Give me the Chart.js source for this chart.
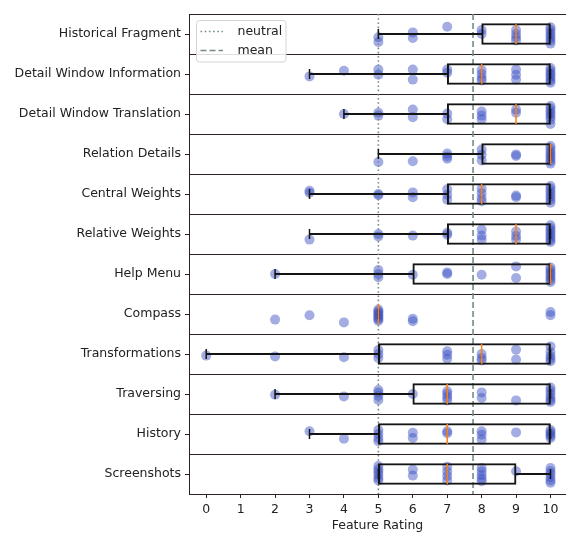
<!DOCTYPE html>
<html>
<head>
<meta charset="utf-8">
<script src="https://cdn.jsdelivr.net/npm/chart.js@4/dist/chart.umd.min.js"></script>
<style>
  html, body { margin: 0; padding: 0; background: #ffffff; }
  canvas { display: block; }
</style>
</head>
<body>
<canvas id="chart" width="566" height="533"></canvas>
<script>
// Features, top row first
const features = [
  'Historical Fragment', 'Detail Window Information', 'Detail Window Translation',
  'Relation Details', 'Central Weights', 'Relative Weights', 'Help Menu',
  'Compass', 'Transformations', 'Traversing', 'History', 'Screenshots'
];

// Individual ratings per feature, with each dot's vertical jitter (fraction of a row)
const historicalFragment = [5,5,6,6,7,8,8,9,9,9,9,10,10,10,10,10,10,10];
const historicalFragmentJitter = [0.08,0.2,-0.04,0.1,-0.18,-0.1,0.0,-0.1,0.0,0.08,0.16,-0.17,-0.1,-0.03,0.04,0.1,0.17,0.24];

const detailWindowInformation = [3,4,5,5,6,6,7,7,8,8,8,8,9,9,9,10,10,10,10,10,10,10];
const detailWindowInformationJitter = [0.06,-0.08,-0.11,0.02,-0.11,0.14,-0.11,-0.03,-0.1,0.0,0.1,0.16,-0.11,0.02,0.14,-0.15,-0.08,-0.02,0.04,0.1,0.16,0.22];

const detailWindowTranslation = [4,5,5,6,6,7,7,8,8,8,9,9,10,10,10,10,10,10,10];
const detailWindowTranslationJitter = [0.0,-0.03,0.04,-0.11,0.08,-0.01,0.13,-0.06,0.04,0.13,-0.11,-0.03,-0.2,-0.13,-0.06,0.0,0.07,0.14,0.25];

const relationDetails = [5,6,7,7,7,8,8,8,9,9,10,10,10,10,10,10,10,10];
const relationDetailsJitter = [0.2,0.18,-0.01,0.06,0.12,-0.11,0.02,0.16,0.01,0.05,-0.2,-0.13,-0.06,0.0,0.06,0.12,0.18,0.24];

const centralWeights = [3,3,5,5,6,6,7,7,7,8,8,8,8,9,9,10,10,10,10,10,10,10];
const centralWeightsJitter = [-0.08,-0.03,0.0,0.03,-0.04,0.08,-0.12,0.02,0.14,-0.13,-0.02,0.1,0.18,0.04,0.08,-0.2,-0.13,-0.06,0.01,0.08,0.15,0.22];

const relativeWeights = [3,5,5,6,7,7,8,8,8,9,9,9,10,10,10,10,10,10,10,10];
const relativeWeightsJitter = [0.14,0.0,0.06,0.04,-0.03,0.02,-0.11,0.04,0.14,-0.06,0.05,0.14,-0.22,-0.15,-0.09,-0.03,0.03,0.09,0.15,0.2];

const helpMenu = [2,5,5,5,6,7,7,8,9,9,10,10,10,10,10,10,10];
const helpMenuJitter = [0.0,-0.1,0.0,0.08,0.02,-0.04,0.0,0.02,-0.19,0.1,-0.16,-0.1,-0.04,0.02,0.08,0.14,0.2];

const compass = [2,3,4,5,5,5,5,5,5,5,5,6,6,10,10];
const compassJitter = [0.14,0.03,0.21,-0.11,-0.07,-0.03,0.01,0.05,0.09,0.13,0.17,0.12,0.18,-0.05,0.03];

const transformations = [0,2,4,5,5,5,7,7,7,8,8,8,9,9,10,10,10,10,10];
const transformationsJitter = [0.04,0.06,0.08,-0.1,0.0,0.1,-0.07,0.02,0.12,0.0,0.1,0.16,-0.11,0.14,-0.19,-0.05,0.05,0.12,0.18];

const traversing = [2,4,5,5,5,5,6,7,7,7,7,8,8,9,10,10,10,10,10,10];
const traversingJitter = [0.02,0.06,-0.1,-0.03,0.05,0.15,0.0,-0.07,0.0,0.08,0.16,-0.04,0.1,0.16,-0.16,-0.08,0.0,0.08,0.15,0.2];

const history = [3,4,5,5,5,5,6,6,7,7,8,8,8,9,10,10,10,10,10];
const historyJitter = [-0.07,0.12,-0.1,0.0,0.1,0.18,-0.03,0.1,-0.07,-0.02,-0.07,0.02,0.14,-0.04,-0.1,-0.05,0.0,0.05,0.1];

const screenshots = [5,5,5,5,5,5,6,6,7,7,7,7,8,8,8,8,8,9,10,10,10,10,10,10];
const screenshotsJitter = [-0.2,-0.12,-0.05,0.02,0.1,0.16,-0.11,0.04,-0.18,-0.06,0.05,0.16,-0.15,-0.06,0.03,0.12,0.18,-0.07,-0.15,-0.07,0.0,0.08,0.16,0.22];

// Box plot summaries, in feature order
const whiskerLow  = [5, 3, 4, 5, 3, 3, 2, 5, 0, 2, 3, 5];
const quartile1   = [8, 7, 7, 8, 7, 7, 6, 5, 5, 6, 5, 5];
const medians     = [9, 8, 9, 10, 8, 9, 10, 5, 8, 7, 7, 7];
const quartile3   = [10, 10, 10, 10, 10, 10, 10, 5, 10, 10, 10, 9];
const whiskerHigh = [10, 10, 10, 10, 10, 10, 10, 5, 10, 10, 10, 10];

// Reference ratings
const neutralRating = 5;
const meanRating = 7.75;

// Rating axis ticks
const ratingTicks = [0, 1, 2, 3, 4, 5, 6, 7, 8, 9, 10];

const featureRatings = [historicalFragment, detailWindowInformation, detailWindowTranslation,
  relationDetails, centralWeights, relativeWeights, helpMenu, compass,
  transformations, traversing, history, screenshots];
const featureJitter = [historicalFragmentJitter, detailWindowInformationJitter, detailWindowTranslationJitter,
  relationDetailsJitter, centralWeightsJitter, relativeWeightsJitter, helpMenuJitter, compassJitter,
  transformationsJitter, traversingJitter, historyJitter, screenshotsJitter];

const rowIndex = features.map((_, i) => i);
const rowTop = -0.5;
const rowBottom = features.length - 0.5;

const dots = [];
featureRatings.forEach((list, i) => {
  list.forEach((r, k) => dots.push({ x: r, y: i + featureJitter[i][k] }));
});

const ink = '#141414';
const spine = '#2e2220';
const refColor = '#768a8a';

Chart.defaults.font.family = "'DejaVu Sans', sans-serif";
Chart.defaults.font.size = 12.5;
Chart.defaults.color = '#222222';

// Framed legend for the two reference lines, placed in the chart's upper-left corner
const refLegend = {
  id: 'refLegend',
  afterDatasetsDraw(chart) {
    const { ctx, chartArea } = chart;
    const refs = chart.data.datasets.filter(d => d.refLine);
    const x0 = chartArea.left + 7.5, y0 = chartArea.top + 6.5, w = 89.5, h = 41.5, r = 3;
    ctx.save();
    ctx.beginPath();
    ctx.moveTo(x0 + r, y0);
    ctx.arcTo(x0 + w, y0, x0 + w, y0 + h, r);
    ctx.arcTo(x0 + w, y0 + h, x0, y0 + h, r);
    ctx.arcTo(x0, y0 + h, x0, y0, r);
    ctx.arcTo(x0, y0, x0 + w, y0, r);
    ctx.closePath();
    ctx.fillStyle = 'rgba(255,255,255,0.85)';
    ctx.fill();
    ctx.strokeStyle = '#d4d4d4';
    ctx.lineWidth = 1;
    ctx.stroke();
    refs.forEach((d, k) => {
      const cy = y0 + 11 + k * 19;
      ctx.beginPath();
      ctx.setLineDash(d.borderDash);
      ctx.strokeStyle = d.borderColor;
      ctx.lineWidth = d.borderWidth;
      ctx.moveTo(x0 + 4, cy);
      ctx.lineTo(x0 + 26.5, cy);
      ctx.stroke();
      ctx.setLineDash([]);
      ctx.fillStyle = '#222222';
      ctx.font = "12.5px 'DejaVu Sans', sans-serif";
      ctx.textAlign = 'left';
      ctx.textBaseline = 'middle';
      ctx.fillText(d.label, x0 + 41, cy);
    });
    ctx.restore();
  }
};

new Chart(document.getElementById('chart'), {
  type: 'scatter',
  data: {
    datasets: [
      {
        label: 'ratings',
        data: dots,
        backgroundColor: 'rgba(60,80,195,0.47)',
        borderWidth: 0,
        pointRadius: 5,
        pointHoverRadius: 5,
        order: 5
      },
      {
        label: 'neutral',
        refLine: true,
        showLine: true,
        data: [{ x: neutralRating, y: rowTop }, { x: neutralRating, y: rowBottom }],
        borderColor: refColor,
        borderWidth: 1.6,
        borderDash: [1.6, 2.6],
        pointRadius: 0,
        order: 4
      },
      {
        label: 'mean',
        refLine: true,
        showLine: true,
        data: [{ x: meanRating, y: rowTop }, { x: meanRating, y: rowBottom }],
        borderColor: refColor,
        borderWidth: 1.6,
        borderDash: [6, 3],
        pointRadius: 0,
        order: 4
      },
      {
        type: 'bar',
        label: 'lower whisker',
        indexAxis: 'y',
        grouped: false,
        data: rowIndex.map(i => ({ x: [whiskerLow[i], quartile1[i]], y: i })),
        backgroundColor: ink,
        borderWidth: 0,
        barThickness: 1.4,
        maxBarThickness: 1.4,
        order: 3
      },
      {
        type: 'bar',
        label: 'upper whisker',
        indexAxis: 'y',
        grouped: false,
        data: rowIndex.map(i => ({ x: [quartile3[i], whiskerHigh[i]], y: i })),
        backgroundColor: ink,
        borderWidth: 0,
        barThickness: 1.4,
        maxBarThickness: 1.4,
        order: 3
      },
      {
        type: 'bar',
        label: 'box',
        indexAxis: 'y',
        grouped: false,
        data: rowIndex.map(i => ({ x: [quartile1[i], quartile3[i]], y: i })),
        backgroundColor: 'rgba(0,0,0,0)',
        borderColor: ink,
        borderWidth: 1.4,
        borderSkipped: false,
        barThickness: 21,
        maxBarThickness: 21,
        order: 2
      },
      {
        label: 'caps',
        data: rowIndex.flatMap(i => [{ x: whiskerLow[i], y: i }, { x: whiskerHigh[i], y: i }]),
        pointStyle: 'line',
        rotation: 90,
        pointRadius: 5,
        pointHoverRadius: 5,
        borderColor: ink,
        borderWidth: 1.5,
        order: 1
      },
      {
        label: 'median',
        data: rowIndex.map(i => ({ x: medians[i], y: i })),
        pointStyle: 'line',
        rotation: 90,
        pointRadius: 10,
        pointHoverRadius: 10,
        borderColor: '#ff7f0e',
        borderWidth: 1.5,
        order: 0
      }
    ]
  },
  options: {
    responsive: false,
    animation: false,
    devicePixelRatio: 1,
    layout: { autoPadding: false, padding: { top: 14, right: 0, bottom: 0, left: 0 } },
    plugins: {
      legend: { display: false },
      tooltip: { enabled: false }
    },
    scales: {
      x: {
        type: 'linear',
        min: -0.5,
        max: 10.45,
        offset: false,
        afterBuildTicks: s => { s.ticks = ratingTicks.map(v => ({ value: v })); },
        afterFit: s => { s.height = 39; s.paddingLeft = 0; s.paddingRight = 0; },
        ticks: { padding: 4, color: '#222222', maxRotation: 0, autoSkip: false },
        grid: { drawOnChartArea: false, drawTicks: true, tickLength: 4, tickColor: spine, lineWidth: 1, offset: false },
        border: { display: true, color: spine, width: 1 },
        title: { display: true, text: 'Feature Rating', padding: 0, color: '#222222' }
      },
      y: {
        type: 'linear',
        reverse: true,
        min: rowTop,
        max: rowBottom,
        offset: false,
        afterBuildTicks: s => { s.ticks = rowIndex.map(v => ({ value: v })); },
        afterFit: s => { s.width = 189; s.paddingTop = 0; s.paddingBottom = 0; },
        ticks: { padding: 4, color: '#222222', autoSkip: false, callback: v => features[v] },
        grid: { drawOnChartArea: false, drawTicks: true, tickLength: 4, tickColor: spine, lineWidth: 1, offset: false },
        border: { display: true, color: spine, width: 1 }
      },
      ySep: {
        axis: 'y',
        type: 'linear',
        position: 'right',
        reverse: true,
        min: rowTop,
        max: rowBottom,
        offset: false,
        afterBuildTicks: s => {
          const bounds = [];
          for (let b = rowTop; b <= rowBottom + 1e-9; b += 1) bounds.push({ value: b });
          s.ticks = bounds;
        },
        afterFit: s => { s.width = 0; s.paddingTop = 0; s.paddingBottom = 0; },
        ticks: { display: false },
        grid: { drawOnChartArea: true, drawTicks: false, color: spine, lineWidth: 1, offset: false },
        border: { display: false }
      }
    }
  },
  plugins: [refLegend]
});
</script>
</body>
</html>
